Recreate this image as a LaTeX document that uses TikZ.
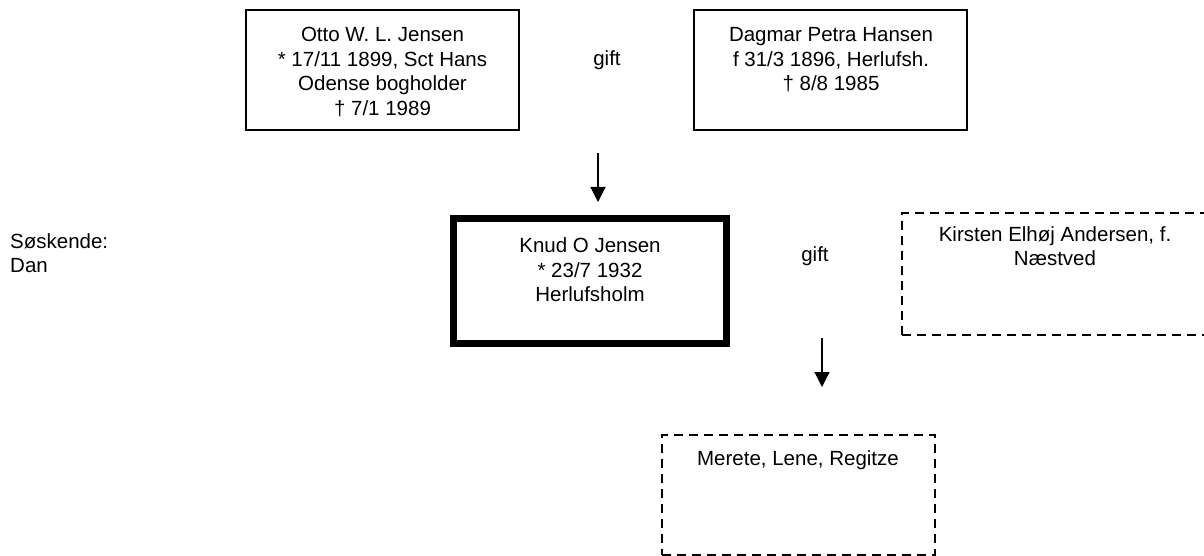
\documentclass[tikz,border=0pt]{standalone}
\usepackage{fontspec}
\setmainfont{Liberation Sans}
\usetikzlibrary{arrows.meta}
\begin{document}
\begin{tikzpicture}[x=1pt,y=-1pt,
  every node/.style={font=\fontsize{20.5}{24.5}\selectfont},
  box/.style={draw,line width=1.2pt,rectangle,inner sep=0pt},
  thickbox/.style={draw,line width=7pt,rectangle,inner sep=0pt},
  dbox/.style={draw,line width=1.2pt,dash pattern=on 9pt off 6pt,rectangle,inner sep=0pt},
  txt/.style={align=center,inner sep=0pt},
  arr/.style={line width=1.2pt,-{Triangle[length=15pt,width=15pt]}}]
\useasboundingbox (0,0) rectangle (1204,556);
% boxes
\node[box,minimum width=273pt,minimum height=120pt] (otto) at (382.5,70) {};
\node[box,minimum width=273pt,minimum height=120pt] (dagmar) at (830.5,70) {};
\node[thickbox,minimum width=273pt,minimum height=125pt] (knud) at (590,281) {};
\node[dbox,minimum width=310pt,minimum height=122pt] (kirsten) at (1057,274) {};
\node[dbox,minimum width=273pt,minimum height=120pt] (merete) at (798.5,495) {};
% texts
\node[txt] (ottot) at (382.5,72) {Otto W. L. Jensen\\* 17/11 1899, Sct Hans\\Odense bogholder\\† 7/1 1989};
\node[txt] (dagmart) at (831,60) {Dagmar Petra Hansen\\f 31/3 1896, Herlufsh.\\† 8/8 1985};
\node[txt] (knudt) at (590,270) {Knud O Jensen\\* 23/7 1932\\Herlufsholm};
\node[txt] (kirstent) at (1055,246) {Kirsten Elhøj Andersen, f.\\Næstved};
\node[txt] (meretet) at (798,460) {Merete, Lene, Regitze};
\node[txt] (gift1) at (607,60) {gift};
\node[txt] (gift2) at (815,256) {gift};
\node[txt,align=left,anchor=west] (sosk) at (10,253) {Søskende:\\Dan};
% arrows
\coordinate (a1s) at (598,153);
\coordinate (a1e) at (598,202);
\coordinate (a2s) at (822,338);
\coordinate (a2e) at (822,387);
\draw[arr] (a1s) -- (a1e);
\draw[arr] (a2s) -- (a2e);
\end{tikzpicture}
\end{document}
